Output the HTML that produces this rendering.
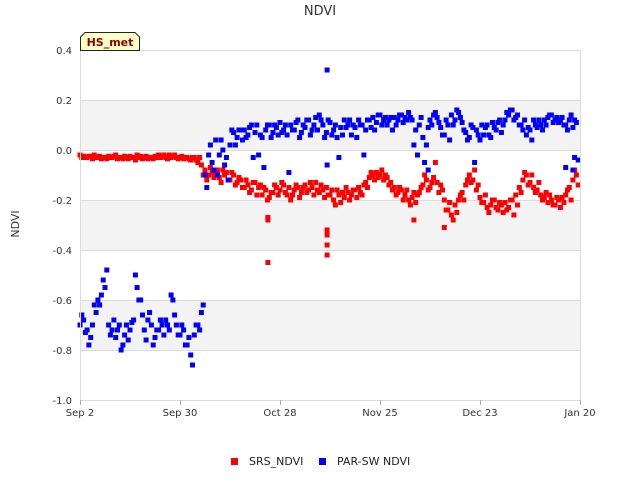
<!DOCTYPE html>
<html><head><meta charset="utf-8"><style>
body{margin:0;background:#fff;font-family:"Liberation Sans","DejaVu Sans",sans-serif;}
svg text{font-family:"DejaVu Sans","Liberation Sans",sans-serif;}
</style></head><body>
<svg id="chart" width="640" height="480" viewBox="0 0 640 480" xmlns="http://www.w3.org/2000/svg">
<text x="320" y="15" text-anchor="middle" font-size="13" fill="#333">NDVI</text>
<text x="19" y="224" text-anchor="middle" font-size="11" fill="#333" transform="rotate(-90 19 224)">NDVI</text>
<g id="bands"></g><g id="grid"></g><g id="marks"></g><g id="axes"></g>
<g>
<path d="M80.5,50.5 V37 L85,32.5 H135 L139.5,37 V50.5 Z" fill="#ffffc8" stroke="#222"/>
<text x="110" y="46" text-anchor="middle" font-size="11" font-weight="bold" fill="#8b0000">HS_met</text>
</g>
<g>
<rect x="231" y="458" width="7" height="7" fill="#ff0000"/>
<text x="249" y="465" font-size="11" fill="#222">SRS_NDVI</text>
<rect x="319" y="458" width="7" height="7" fill="#0000ff"/>
<text x="337" y="465" font-size="11" fill="#222">PAR-SW NDVI</text>
</g>
</svg>
<script>
const yTicks=[0.4,0.2,0.0,-0.2,-0.4,-0.6,-0.8,-1.0];
const yTickLabels=["0.4","0.2","0.0","-0.2","-0.4","-0.6","-0.8","-1.0"];
const xTickDays=[0,28,56,84,112,140];
const xTickLabels=["Sep 2","Sep 30","Oct 28","Nov 25","Dec 23","Jan 20"];
const srsA=[-0.02,-0.025,-0.03,-0.025,-0.02,-0.03,-0.035,-0.03,-0.025,-0.03,-0.02,-0.03,-0.035,-0.03,-0.025,-0.03,-0.02,-0.025,-0.03,-0.035,-0.03,-0.025,-0.02,-0.025,-0.03,-0.02,-0.025,-0.03,
-0.03,-0.035,-0.03,-0.04,-0.03,-0.05,-0.06,-0.08,-0.1,-0.09,-0.1,-0.11,-0.08,-0.09,-0.12,-0.1,-0.13,-0.12,
-0.15,-0.14,-0.16,-0.13,-0.15,-0.18,-0.16,-0.19,-0.17,-0.15,-0.16,-0.14,-0.18,-0.2,-0.16,-0.15,-0.17,
-0.14,-0.16,-0.15,-0.13,-0.17,-0.16,-0.15,-0.18,-0.2,-0.16,-0.21,-0.19,-0.17,-0.18,
-0.16,-0.15,-0.18,-0.13,-0.11,-0.1,-0.09,-0.1,-0.12,-0.11,-0.13,
-0.15,-0.17,-0.16,-0.18,-0.2,-0.19,-0.21,-0.17,-0.14,-0.12,-0.15,-0.11,-0.13,-0.14,
-0.2,-0.24,-0.26,-0.22,-0.2,-0.17,-0.14,-0.1,-0.12,-0.16,-0.19,
-0.21,-0.23,-0.22,-0.2,-0.24,-0.22,-0.21,-0.23,-0.2,-0.18,-0.15,-0.12,
-0.1,-0.13,-0.15,-0.16,-0.18,-0.19,-0.21,-0.2,-0.22,-0.2,-0.19,-0.18,-0.15,-0.12,-0.1];
const srsB=[-0.03,-0.03,-0.025,-0.035,-0.03,-0.025,-0.03,-0.035,-0.03,-0.025,-0.035,-0.03,-0.025,-0.035,-0.03,-0.04,-0.03,-0.035,-0.025,-0.03,-0.035,-0.03,-0.03,-0.02,-0.035,-0.03,-0.02,-0.035,
-0.025,-0.03,-0.035,-0.03,-0.04,-0.03,-0.1,-0.12,-0.07,-0.11,-0.08,-0.13,-0.1,-0.12,-0.09,-0.14,-0.11,-0.15,
-0.12,-0.17,-0.13,-0.18,-0.14,-0.15,-0.2,-0.17,-0.14,-0.18,-0.13,-0.17,-0.15,-0.18,-0.14,-0.19,-0.15,
-0.17,-0.13,-0.18,-0.16,-0.14,-0.19,-0.18,-0.16,-0.22,-0.18,-0.17,-0.15,-0.2,-0.16,
-0.19,-0.17,-0.14,-0.15,-0.09,-0.12,-0.11,-0.08,-0.1,-0.14,-0.16,
-0.18,-0.15,-0.2,-0.16,-0.22,-0.17,-0.18,-0.15,-0.1,-0.16,-0.13,-0.05,-0.17,-0.16,
-0.24,-0.21,-0.28,-0.25,-0.18,-0.2,-0.12,-0.13,-0.08,-0.14,-0.21,
-0.18,-0.25,-0.2,-0.23,-0.21,-0.25,-0.24,-0.2,-0.26,-0.22,-0.17,-0.09,
-0.14,-0.1,-0.17,-0.13,-0.2,-0.17,-0.18,-0.22,-0.19,-0.23,-0.21,-0.16,-0.2,-0.08,-0.14];
const srsOutDays=[52.6,52.6,52.6,69.2,69.2,69.2,69.2,93.5,102];
const srsOutVals=[-0.27,-0.28,-0.45,-0.32,-0.34,-0.38,-0.42,-0.28,-0.31];
const parA=[-0.7,-0.68,-0.72,-0.75,-0.62,-0.6,-0.58,-0.55,-0.7,-0.72,-0.75,-0.7,-0.78,
-0.7,-0.72,-0.68,-0.55,-0.6,-0.72,-0.68,-0.7,-0.75,-0.72,-0.7,-0.68,-0.72,-0.6,
-0.7,-0.74,-0.72,-0.78,-0.82,-0.74,-0.7,-0.65,
-0.1,-0.02,-0.05,0.04,-0.02,0.0,-0.03,0.02,0.07,0.05,0.08,
0.08,0.06,0.1,0.07,-0.02,0.05,0.08,0.1,0.07,0.09,0.11,0.08,0.06,0.1,0.08,0.12,0.07,
0.09,0.12,0.08,0.13,0.14,0.1,0.07,0.11,0.08,0.05,0.09,0.12,0.1,0.06,
0.09,0.12,0.1,0.08,0.12,0.13,0.11,0.14,0.12,0.1,0.13,
0.13,0.12,0.14,0.13,0.15,0.12,0.08,0.1,0.05,0.02,0.12,0.14,0.13,0.09,
0.06,0.1,0.14,0.12,0.15,0.11,0.07,0.05,0.09,0.08,0.04,
0.06,0.1,0.05,0.09,0.11,0.07,0.12,0.14,0.16,0.13,0.1,0.08,
0.06,0.08,0.12,0.09,0.1,0.12,0.13,0.14,0.12,0.11,0.13,0.1,0.12,0.09,0.11];
const parB=[-0.66,-0.73,-0.78,-0.7,-0.65,-0.62,-0.52,-0.48,-0.74,-0.68,-0.72,-0.8,-0.74,
-0.76,-0.69,-0.5,-0.6,-0.66,-0.76,-0.65,-0.78,-0.72,-0.68,-0.74,-0.7,-0.58,-0.66,
-0.74,-0.7,-0.78,-0.75,-0.86,-0.7,-0.72,-0.62,
-0.15,0.02,-0.08,-0.1,0.04,-0.06,-0.12,0.08,0.02,0.08,0.04,
0.05,0.09,-0.03,0.1,0.06,-0.07,0.1,0.05,0.1,0.06,0.07,0.1,-0.09,0.08,0.11,0.05,0.1,
0.12,0.06,0.1,0.08,0.12,0.05,0.12,0.06,0.1,-0.03,0.06,0.09,0.12,0.1,
0.05,0.1,-0.02,0.12,0.09,0.08,0.14,0.1,0.13,0.12,0.08,
0.1,0.14,0.11,0.12,0.13,0.02,-0.02,0.13,-0.05,0.09,0.1,0.15,0.11,0.06,
0.12,0.04,0.1,0.16,0.13,0.08,0.04,0.1,-0.05,0.06,0.1,
0.09,0.06,0.11,0.08,0.12,0.1,0.15,0.16,0.12,0.14,0.1,0.12,
0.09,0.04,0.1,0.12,0.08,0.1,0.14,0.11,0.13,0.12,0.1,0.08,0.14,0.12,-0.04];
const parOutDays=[69.2,69.2,97.5,136,138,138.5];
const parOutVals=[0.32,-0.06,-0.08,-0.07,-0.08,-0.03];

const L=80,R=580,T=50,B=400,xMax=140,yMin=-1.0,yMax=0.4;
const X=d=>L+(d/xMax)*(R-L);
const Y=v=>T+(yMax-v)/(yMax-yMin)*(B-T);
const NS="http://www.w3.org/2000/svg";
function mk(tag,attrs,parent){const e=document.createElementNS(NS,tag);for(const k in attrs)e.setAttribute(k,attrs[k]);parent.appendChild(e);return e;}
const bands=document.getElementById('bands'),grid=document.getElementById('grid'),marks=document.getElementById('marks'),axes=document.getElementById('axes');
for(let i=0;i<yTicks.length-1;i++){
  if(i%2===1){const r=mk('rect',{x:L,y:Y(yTicks[i]),width:R-L,height:Y(yTicks[i+1])-Y(yTicks[i]),fill:'#f3f3f3'},bands);
  
  }
}
yTicks.forEach((v,i)=>{
  const ln=mk('line',{x1:L,x2:R,y1:Y(v)+0.5,y2:Y(v)+0.5,stroke:'#dcdcdc'},grid);
  
  
  const t=mk('text',{x:L-8,y:Y(v)+4,'text-anchor':'end','font-size':'10',fill:'#333'},axes);
  t.textContent=yTickLabels[i];
  
  
});
const fr=mk('rect',{x:L+0.5,y:T+0.5,width:R-L,height:B-T,fill:'none',stroke:'#dcdcdc'},axes);


xTickDays.forEach((d,i)=>{
  const tk=mk('line',{x1:X(d)+0.5,x2:X(d)+0.5,y1:B,y2:B+5,stroke:'#aaa'},axes);
  
  
  const t=mk('text',{x:X(d),y:B+16,'text-anchor':'middle','font-size':'10',fill:'#333'},axes);
  t.textContent=xTickLabels[i];
  
  
});
function pt(d,v,color,name){
  if(v===null||v===undefined)return;
  const r=mk('rect',{x:(X(d)-2.5).toFixed(1),y:(Y(v)-2.5).toFixed(1),width:5,height:5,fill:color},marks);
  
  
}
srsA.forEach((v,d)=>pt(d,v,'#ff0000','srs-point'));
srsB.forEach((v,d)=>pt(d+0.5,v,'#ff0000','srs-point'));
srsOutDays.forEach((d,i)=>pt(d,srsOutVals[i],'#ff0000','srs-point'));
parA.forEach((v,d)=>pt(d,v,'#0000ff','par-point'));
parB.forEach((v,d)=>pt(d+0.5,v,'#0000ff','par-point'));
parOutDays.forEach((d,i)=>pt(d,parOutVals[i],'#0000ff','par-point'));
</script>
</body></html>
